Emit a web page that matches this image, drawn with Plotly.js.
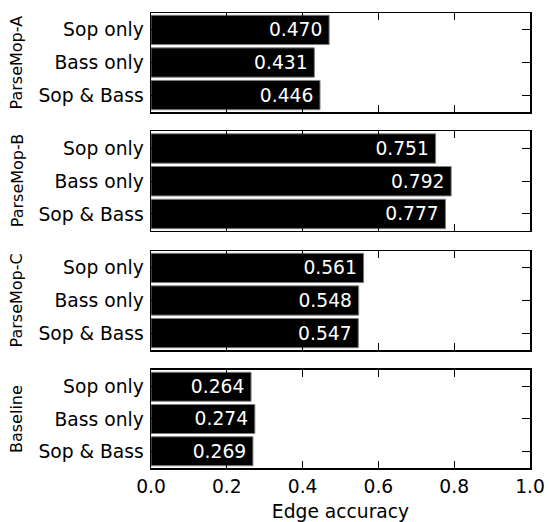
<!DOCTYPE html>
<html>
<head>
<meta charset="utf-8">
<script src="https://cdn.plot.ly/plotly-3.0.1.min.js"></script>
<style>html,body{margin:0;padding:0;background:#fff;}#chart{width:549px;height:522px;}</style>
</head>
<body>
<div id="chart"></div>
<script>
const categories = ["Sop only", "Bass only", "Sop & Bass"];
const groups = ["ParseMop-A", "ParseMop-B", "ParseMop-C", "Baseline"];
const valuesA = [0.470, 0.431, 0.446];
const valuesB = [0.751, 0.792, 0.777];
const valuesC = [0.561, 0.548, 0.547];
const valuesBaseline = [0.264, 0.274, 0.269];
const xTicks = [0.0, 0.2, 0.4, 0.6, 0.8, 1.0];
const xTitle = "Edge accuracy";

const allValues = [valuesA, valuesB, valuesC, valuesBaseline];
const domains = [[0.7824, 1.0], [0.5209, 0.7396], [0.2593, 0.4769], [0, 0.2154]];
const font = "DejaVu Sans, sans-serif";
const fs = 18.7;

const data = allValues.map((vals, i) => ({
  type: "bar",
  orientation: "h",
  x: vals,
  y: categories,
  xaxis: i === 0 ? "x" : "x" + (i + 1),
  yaxis: i === 0 ? "y" : "y" + (i + 1),
  width: 0.9,
  marker: {color: "#000000", line: {color: "#808080", width: 1}},
  text: vals.map(v => v.toFixed(3) + "\u2009"),
  textposition: "inside",
  insidetextanchor: "end",
  textfont: {color: "#ffffff", size: fs, family: font},
  hoverinfo: "x+y",
  cliponaxis: false
}));

const layout = {
  width: 549, height: 522,
  margin: {l: 151, r: 19, t: 13, b: 54},
  paper_bgcolor: "#ffffff", plot_bgcolor: "#ffffff",
  showlegend: false,
  font: {family: font, size: fs, color: "#000000"},
  annotations: []
};

allValues.forEach((vals, i) => {
  const xk = i === 0 ? "xaxis" : "xaxis" + (i + 1);
  const yk = i === 0 ? "yaxis" : "yaxis" + (i + 1);
  const yid = i === 0 ? "y" : "y" + (i + 1);
  const xid = i === 0 ? "x" : "x" + (i + 1);
  layout[xk] = {
    domain: [0, 1], anchor: yid, range: [0, 1],
    tickvals: xTicks, tickformat: ".1f",
    showticklabels: i === allValues.length - 1,
    ticks: "inside", ticklen: 7, tickwidth: 1, tickcolor: "#000",
    showline: true, linecolor: "#000", linewidth: 1.5, mirror: "ticks",
    showgrid: false, zeroline: false,
    ticklabelstandoff: 1,
    tickfont: {size: fs, family: font}
  };
  if (i === allValues.length - 1) {
    layout[xk].title = {text: xTitle, font: {size: fs, family: font}, standoff: 10};
  }
  layout[yk] = {
    domain: domains[i], anchor: xid,
    type: "category", categoryarray: categories,
    range: [2.52, -0.52],
    ticks: "inside", ticklen: 8, tickwidth: 1, tickcolor: "#000",
    showline: true, linecolor: "#000", linewidth: 1.5, mirror: "ticks",
    showgrid: false, zeroline: false,
    ticklabelstandoff: 2,
    tickfont: {size: fs, family: font}
  };
  layout.annotations.push({
    text: groups[i], textangle: -90,
    xref: "paper", yref: "paper",
    x: (17 - 151) / 379, xanchor: "center",
    y: (domains[i][0] + domains[i][1]) / 2, yanchor: "middle",
    showarrow: false,
    font: {size: 16, family: font, color: "#000"}
  });
});

Plotly.newPlot("chart", data, layout, {displayModeBar: false, staticPlot: true});
</script>
</body>
</html>
